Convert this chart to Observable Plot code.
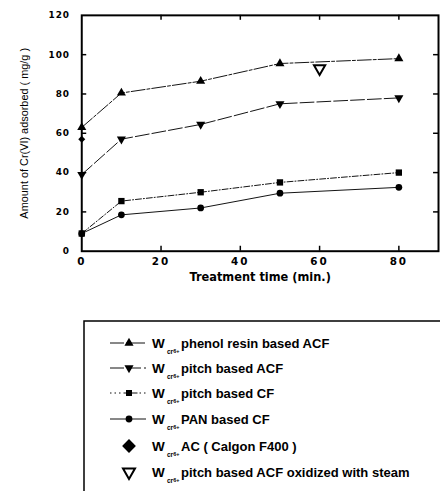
<!DOCTYPE html>
<html><head><meta charset="utf-8">
<script src="https://cdn.jsdelivr.net/npm/d3@7"></script>
<script src="https://cdn.jsdelivr.net/npm/@observablehq/plot@0.6"></script>
<style>
html,body{margin:0;padding:0}
body{width:440px;height:491px;overflow:hidden;background:#fff;position:relative}
#chart{position:absolute;left:0;top:0}
#legend{position:absolute;left:83px;top:320px}
#chart g[aria-label="x-axis tick label"] text{letter-spacing:2px}
#chart g[aria-label="y-axis tick label"] text{letter-spacing:0.9px}
</style>
</head><body><div id="chart"></div><div id="legend"></div>
<script>
// ---- data ----
const times = [0, 10, 30, 50, 80];
const phenolACF = [63, 80.5, 86.5, 95.5, 98];
const pitchACF = [39, 57, 64.5, 75, 78];
const pitchCF = [9, 25.5, 30, 35, 40];
const panCF = [9, 18.5, 22, 29.5, 32.5];
const calgonTime = [0];
const calgonValue = [57];
const steamTime = [60];
const steamValue = [93];
const xTicks = [0, 20, 40, 60, 80];
const yTicks = [0, 20, 40, 60, 80, 100, 120];
const xLabel = "Treatment time (min.)";
const yLabel = "Amount of Cr(VI) adsorbed ( mg/g )";
const legendNames = [
  "phenol resin based ACF",
  "pitch based ACF",
  "pitch based CF",
  "PAN based CF",
  "AC ( Calgon F400 )",
  "pitch based ACF oxidized with steam"
];

const series = [
  {values: phenolACF, symbol: "triangle", rotate: 0, dash: "14,2,3,2", r: 3.4},
  {values: pitchACF, symbol: "triangle", rotate: 180, dash: "14,3", r: 3.4},
  {values: pitchCF, symbol: "square", rotate: 0, dash: "6,2,1,2", r: 3.6},
  {values: panCF, symbol: "circle", rotate: 0, dash: null, r: 3.4}
].map(s => ({...s, data: times.map((t, i) => ({t, v: s.values[i]}))}));

const calgon = calgonTime.map((t, i) => ({t, v: calgonValue[i]}));
const steam = steamTime.map((t, i) => ({t, v: steamValue[i]}));

const innerW = 360, innerH = 238;

const chart = Plot.plot({
  width: 444, height: 292,
  marginLeft: 82, marginRight: 2, marginTop: 15, marginBottom: 39,
  x: {domain: [0, 90]},
  y: {domain: [0, 120]},
  style: {fontFamily: "DejaVu Sans", fontSize: "11px", fontWeight: "bold", background: "white", color: "black"},
  marks: [
    Plot.axisX(xTicks, {tickSize: 0, tickPadding: 6, label: null, fontSize: 10.5}),
    Plot.axisY(yTicks, {tickSize: 0, tickPadding: 12, label: null, fontSize: 9}),
    Plot.tickX(xTicks.slice(1), {x: d => d, insetTop: innerH - 5, strokeWidth: 1.5}),
    Plot.tickX(xTicks.slice(1), {x: d => d, insetBottom: innerH - 5, strokeWidth: 1.5}),
    Plot.tickY(yTicks.slice(1, -1), {y: d => d, insetRight: innerW - 5, strokeWidth: 1.5}),
    Plot.tickY(yTicks.slice(1, -1), {y: d => d, insetLeft: innerW - 5, strokeWidth: 1.5}),
    ...series.map(s => Plot.line(s.data, {x: "t", y: "v", stroke: "#111", strokeWidth: 1, strokeDasharray: s.dash})),
    ...series.map(s => Plot.dot(s.data, {x: "t", y: "v", symbol: s.symbol, rotate: s.rotate, r: s.r, fill: "black", stroke: null})),
    Plot.dot(calgon, {x: "t", y: "v", symbol: "diamond2", r: 3.2, fill: "black"}),
    Plot.dot(steam, {x: "t", y: "v", symbol: "triangle", rotate: 180, r: 4.2, fill: "white", stroke: "black", strokeWidth: 2}),
    Plot.frame({strokeWidth: 2, stroke: "black"}),
    Plot.text([xLabel], {frameAnchor: "bottom", dy: 30, fontSize: 11.5, fontWeight: "bold", fontFamily: "DejaVu Sans"}),
    Plot.text([yLabel], {frameAnchor: "left", textAnchor: "middle", lineAnchor: "middle", rotate: -90, dx: -58, fontSize: 11, fontWeight: "normal", fontFamily: "Liberation Sans"})
  ]
});
document.getElementById("chart").appendChild(chart);

// ---- legend ----
const legendSymbols = [
  {line: true, dash: series[0].dash, symbol: d3.symbolTriangle, rotate: 0, size: 36, fill: "black", stroke: "none", sw: 0},
  {line: true, dash: series[1].dash, symbol: d3.symbolTriangle, rotate: 180, size: 36, fill: "black", stroke: "none", sw: 0},
  {line: true, dash: "1.5,3,1.5,3,1.5,3,6,2,6,2", symbol: d3.symbolSquare, rotate: 0, size: 36, fill: "black", stroke: "none", sw: 0},
  {line: true, dash: null, symbol: d3.symbolCircle, rotate: 0, size: 36, fill: "black", stroke: "none", sw: 0},
  {line: false, dash: null, symbol: d3.symbolSquare, rotate: 45, size: 95, fill: "black", stroke: "none", sw: 0},
  {line: false, dash: null, symbol: d3.symbolTriangle, rotate: 180, size: 62, fill: "white", stroke: "black", sw: 2}
];
const rowY = [23, 48, 73, 99, 126, 152];
const lsvg = d3.select("#legend").append("svg").attr("width", 362).attr("height", 220)
  .style("display", "block")
  .style("font-family", "Liberation Sans").style("font-weight", "bold");
lsvg.append("path").attr("d", "M1,220V1H400")
  .attr("fill", "none").attr("stroke", "black").attr("stroke-width", 1.5);
legendNames.forEach((name, i) => {
  const s = legendSymbols[i];
  const g = lsvg.append("g").attr("transform", `translate(0,${rowY[i]})`);
  if (s.line) {
    g.append("line").attr("x1", 27).attr("x2", 63).attr("y1", 0).attr("y2", 0)
      .attr("stroke", "#111").attr("stroke-width", 1).attr("stroke-dasharray", s.dash);
  }
  g.append("path").attr("d", d3.symbol(s.symbol, s.size)())
    .attr("transform", `translate(46,0) rotate(${s.rotate})`)
    .attr("fill", s.fill).attr("stroke", s.stroke).attr("stroke-width", s.sw);
  g.append("text").attr("x", 69).attr("y", 5).attr("font-size", 13.5).text("W");
  const sub = g.append("text").attr("x", 84).attr("y", 11).attr("font-size", 6.5).attr("font-weight", "bold");
  sub.append("tspan").text("cr");
  sub.append("tspan").attr("dy", -1.5).attr("font-size", 5.5).text("6+");
  g.append("text").attr("x", 98).attr("y", 5).attr("font-size", 13).text(name);
});
</script>
</body></html>
